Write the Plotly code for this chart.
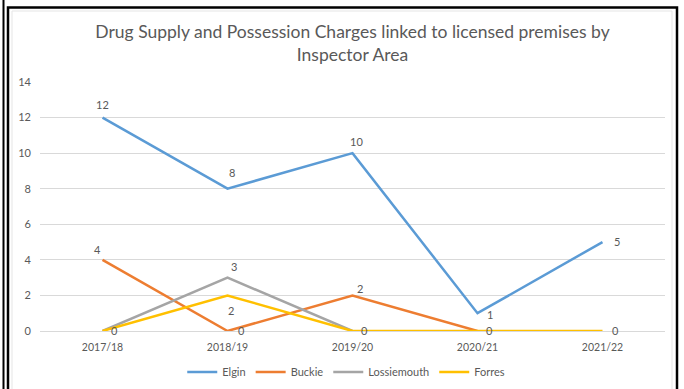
import plotly.graph_objects as go

years = ["2017/18", "2018/19", "2019/20", "2020/21", "2021/22"]
elgin = [12, 8, 10, 1, 5]
buckie = [4, 0, 2, 0, None]
lossiemouth = [0, 3, 0, None, None]
forres = [0, 2, 0, 0, 0]

# label offsets in pixels (dx, dy) per point; None hides a label
label_offsets = {
    "Elgin": [(0, 13), (4, 16), (4, 12), (12, -1), (14, 1)],
    "Buckie": [(-5, 10), (14, 1), (7, 7), None, None],
    "Lossiemouth": [None, (6, 11), None, None, None],
    "Forres": [(12, 1), (3, -15), (12, 1), (12, 1), (13, 1)],
}

series = [
    ("Elgin", elgin, "#5B9BD5"),
    ("Buckie", buckie, "#ED7D31"),
    ("Lossiemouth", lossiemouth, "#A5A5A5"),
    ("Forres", forres, "#FFC000"),
]

FONT = "Lato, Open Sans, sans-serif"
GREY = "#595959"

fig = go.Figure()
annotations = []
for name, vals, color in series:
    fig.add_trace(go.Scatter(
        x=years, y=vals, name=name, mode="lines",
        line=dict(color=color, width=2.5),
        connectgaps=False,
    ))
    for yr, v, off in zip(years, vals, label_offsets[name]):
        if v is None or off is None:
            continue
        annotations.append(dict(
            x=yr, y=v, xref="x", yref="y", text=str(v), showarrow=False,
            xshift=off[0], yshift=off[1],
            font=dict(family=FONT, size=11, color=GREY),
        ))

W, H = 684, 389
L, R, T, B = 40, 19, 82, 58
pw, ph = W - L - R, H - T - B

def px(x):
    return (x - L) / pw

def py(y):
    return (H - B - y) / ph

shapes = [
    dict(type="line", xref="paper", yref="paper", x0=px(3.5), x1=px(3.5),
         y0=py(0), y1=py(389), line=dict(color="black", width=2)),
    dict(type="rect", xref="paper", yref="paper", x0=px(8), x1=px(677),
         y0=py(7.5), y1=py(392), line=dict(color="black", width=2.5)),
    dict(type="rect", xref="paper", yref="paper", x0=px(12), x1=px(672),
         y0=py(11), y1=py(392), line=dict(color="#E5E5E5", width=1)),
]

fig.update_layout(
    width=W, height=H,
    margin=dict(l=L, r=R, t=T, b=B, autoexpand=False),
    paper_bgcolor="white", plot_bgcolor="white",
    title=dict(
        text="Drug Supply and Possession Charges linked to licensed premises by<br>Inspector Area",
        x=0.5, xref="paper", y=1 - 38 / H, yref="container", yanchor="top",
        font=dict(family=FONT, size=17.5, color=GREY),
    ),
    xaxis=dict(
        type="category", range=[-0.5, 4.5], showgrid=False, showline=True,
        linecolor="#D9D9D9", linewidth=1, ticks="",
        tickfont=dict(family=FONT, size=10.5, color=GREY),
        ticklabelstandoff=6,
    ),
    yaxis=dict(
        range=[0, 14], dtick=2, showgrid=True, gridcolor="#D9D9D9", gridwidth=1,
        zeroline=False, showline=False, ticks="",
        tickfont=dict(family=FONT, size=11, color=GREY),
        ticklabelstandoff=8,
    ),
    legend=dict(
        orientation="h", x=0.49, xanchor="center",
        y=1 - 372 / H, yref="container", yanchor="middle",
        font=dict(family=FONT, size=11, color=GREY),
        itemwidth=30,
    ),
    annotations=annotations,
    shapes=shapes,
    showlegend=True,
)

fig.write_html("out.html")
